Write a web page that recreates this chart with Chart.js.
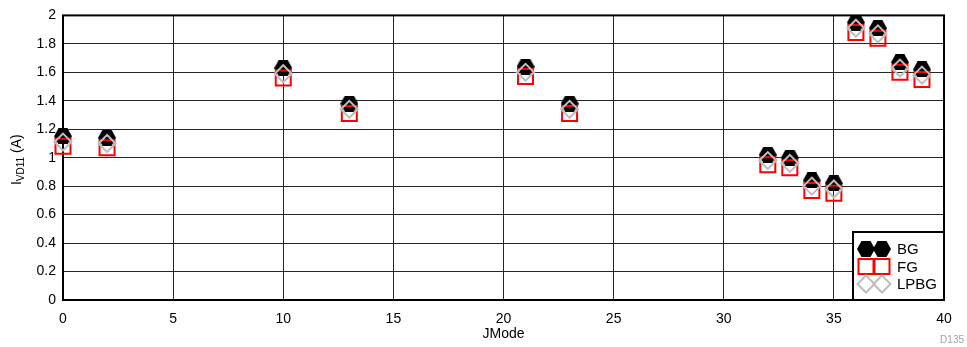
<!DOCTYPE html>
<html>
<head>
<meta charset="utf-8">
<script src="https://cdn.jsdelivr.net/npm/chart.js@4"></script>
<style>
  body { margin: 0; background: #fff; }
  #wrap { width: 967px; height: 347px; position: relative; }
</style>
</head>
<body>
<div id="wrap"><canvas id="myChart"></canvas></div>
<script>
// data
var jmode = [0, 2, 10, 13, 21, 23, 32, 33, 34, 35, 36, 37, 38, 39];
var bg    = [1.15, 1.14, 1.63, 1.38, 1.64, 1.38, 1.02, 1.00, 0.84, 0.82, 1.95, 1.91, 1.67, 1.62];
var fg    = [1.08, 1.07, 1.56, 1.31, 1.57, 1.31, 0.95, 0.93, 0.77, 0.75, 1.88, 1.84, 1.60, 1.55];
var lpbg  = [1.11, 1.10, 1.59, 1.34, 1.60, 1.34, 0.98, 0.96, 0.80, 0.78, 1.91, 1.87, 1.63, 1.58];
var seriesNames = ['BG', 'FG', 'LPBG'];

var FONT = '"Liberation Sans", Arial, sans-serif';

function pts(xs, ys) {
  return xs.map(function (x, i) { return { x: x, y: ys[i] }; });
}

// black hexagon marker (no built-in style for it)
function hexImage(w, h) {
  var c = document.createElement('canvas');
  c.width = w; c.height = h;
  var g = c.getContext('2d');
  g.fillStyle = '#000';
  g.beginPath();
  g.moveTo(w * 0.25, 0);
  g.lineTo(w * 0.75, 0);
  g.lineTo(w, h / 2);
  g.lineTo(w * 0.75, h);
  g.lineTo(w * 0.25, h);
  g.lineTo(0, h / 2);
  g.closePath();
  g.fill();
  return c;
}
var hex = hexImage(18, 16);

// frame, y title, legend box and the D135 tag
var extras = {
  id: 'extras',
  beforeDatasetsDraw: function (chart) {
    var a = chart.chartArea, ctx = chart.ctx;
    ctx.save();
    ctx.strokeStyle = '#000';
    ctx.lineWidth = 2;
    ctx.strokeRect(a.left, a.top, a.right - a.left, a.bottom - a.top);
    ctx.restore();
  },
  afterDraw: function (chart) {
    var a = chart.chartArea, ctx = chart.ctx;
    ctx.save();

    // y axis title: I with subscript VD11
    var cy = (a.top + a.bottom) / 2 + 2;
    ctx.translate(21, cy);
    ctx.rotate(-Math.PI / 2);
    ctx.fillStyle = '#000';
    ctx.textBaseline = 'alphabetic';
    var big = '14px ' + FONT, small = '10px ' + FONT;
    ctx.font = big; var w1 = ctx.measureText('I').width;
    ctx.font = small; var w2 = ctx.measureText('VD11').width;
    ctx.font = big; var w3 = ctx.measureText(' (A)').width;
    var x = -(w1 + w2 + w3) / 2;
    ctx.font = big; ctx.fillText('I', x, 0); x += w1;
    ctx.font = small; ctx.fillText('VD11', x, 3); x += w2;
    ctx.font = big; ctx.fillText(' (A)', x, 0);
    ctx.restore();

    // legend box
    ctx.save();
    var bx = 853, by = 232;
    ctx.fillStyle = '#fff';
    ctx.fillRect(bx, by, a.right - bx, a.bottom - by);
    ctx.strokeStyle = '#000';
    ctx.lineWidth = 2;
    ctx.strokeRect(bx, by, a.right - bx, a.bottom - by);
    chart.data.datasets.forEach(function (ds, i) {
      var ry = 249 + i * 17.5;
      var opts = {
        pointStyle: ds.pointStyle,
        radius: ds.pointRadius,
        rotation: 0,
        borderWidth: ds.pointBorderWidth
      };
      ctx.strokeStyle = ds.pointBorderColor;
      ctx.fillStyle = ds.pointBackgroundColor;
      ctx.lineWidth = ds.pointBorderWidth;
      [866, 882].forEach(function (mx) {
        Chart.helpers.drawPoint(ctx, opts, mx, ry);
      });
      ctx.fillStyle = '#000';
      ctx.font = '15px ' + FONT;
      ctx.textBaseline = 'middle';
      ctx.textAlign = 'left';
      ctx.fillText(ds.label, 897, ry + 1);
    });
    ctx.restore();

    // figure tag
    ctx.save();
    ctx.fillStyle = '#a0a0a0';
    ctx.font = '10px ' + FONT;
    ctx.textAlign = 'right';
    ctx.textBaseline = 'middle';
    ctx.fillText('D135', 964, 340);
    ctx.restore();
  }
};

var ctx = document.getElementById('myChart').getContext('2d');
var myChart = new Chart(ctx, {
  type: 'scatter',
  data: {
    datasets: [{
      label: seriesNames[0],
      data: pts(jmode, bg),
      pointStyle: hex,
      pointRadius: 9,
      pointBorderWidth: 0,
      pointBorderColor: '#000',
      pointBackgroundColor: '#000',
      order: 3,
      clip: false
    }, {
      label: seriesNames[1],
      data: pts(jmode, fg),
      pointStyle: 'rect',
      pointRadius: 10.6,
      pointBorderWidth: 2,
      pointBorderColor: '#ff0000',
      pointBackgroundColor: 'rgba(0,0,0,0)',
      order: 2,
      clip: false
    }, {
      label: seriesNames[2],
      data: pts(jmode, lpbg),
      pointStyle: 'rectRot',
      pointRadius: 8.5,
      pointBorderWidth: 2,
      pointBorderColor: '#bdbdbd',
      pointBackgroundColor: 'rgba(0,0,0,0)',
      order: 1,
      clip: false
    }]
  },
  options: {
    responsive: true,
    maintainAspectRatio: false,
    animation: false,
    layout: { padding: { top: 14, right: 23, left: 0, bottom: 0 } },
    plugins: {
      legend: { display: false },
      tooltip: { enabled: false }
    },
    scales: {
      x: {
        type: 'linear',
        min: 0,
        max: 40,
        ticks: { stepSize: 5, color: '#000', padding: 11, font: { family: FONT, size: 14 } },
        grid: { color: '#262626', lineWidth: 1, drawTicks: false },
        border: { display: false },
        title: { display: true, text: 'JMode', color: '#000', font: { family: FONT, size: 14 }, padding: { top: 0, bottom: 4 } },
        afterFit: function (s) { s.height = 47; }
      },
      y: {
        min: 0,
        max: 2,
        ticks: {
          stepSize: 0.2, color: '#000', padding: 7, font: { family: FONT, size: 14 },
          callback: function (v) { return String(+v.toFixed(1)); }
        },
        grid: { color: '#262626', lineWidth: 1, drawTicks: false },
        border: { display: false },
        afterFit: function (s) { s.width = 63; }
      }
    }
  },
  plugins: [extras]
});
</script>
</body>
</html>
